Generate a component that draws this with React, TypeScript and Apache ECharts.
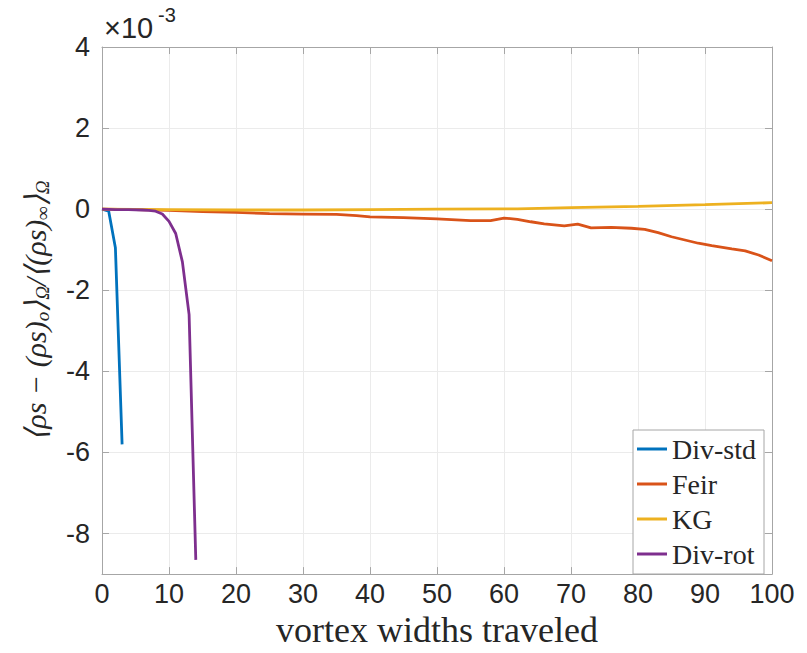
import React, { useEffect, useRef } from "react";
import * as echarts from "echarts";

// values in units of 1e-3
const divStdX = [0, 1, 2, 3];
const divStdY = [0, -0.05, -0.95, -5.8];

const feirX = [0, 5, 10, 15, 20, 25, 30, 35, 38, 40, 45, 50, 55, 58, 60, 62, 64, 66, 69, 71, 73, 76, 79, 81, 83, 85, 87, 89, 91, 94, 96, 98, 100];
const feirY = [0, -0.01, -0.03, -0.06, -0.08, -0.11, -0.12, -0.13, -0.16, -0.19, -0.21, -0.24, -0.28, -0.28, -0.22, -0.25, -0.31, -0.36, -0.41, -0.37, -0.46, -0.45, -0.47, -0.5, -0.58, -0.68, -0.76, -0.84, -0.9, -0.98, -1.03, -1.13, -1.27];

const kgX = [0, 10, 20, 30, 40, 50, 60, 62, 70, 80, 90, 100];
const kgY = [0, -0.01, -0.02, -0.02, -0.01, 0, 0.01, 0.01, 0.04, 0.07, 0.11, 0.16];

const divRotX = [0, 2, 4, 6, 7, 8, 9, 10, 11, 12, 13, 14];
const divRotY = [0, -0.01, -0.01, -0.02, -0.03, -0.05, -0.12, -0.3, -0.6, -1.3, -2.6, -8.65];

const seriesNames = ["Div-std", "Feir", "KG", "Div-rot"];
const seriesColors = ["#0072BD", "#D95319", "#EDB120", "#7E2F8E"];

const xMin = 0;
const xMax = 100;
const xInterval = 10;
const yMin = -9;
const yMax = 4;

const zip = (xs: number[], ys: number[]) => xs.map((x, i) => [x, ys[i]]);

export default function App() {
  const ref = useRef<HTMLDivElement>(null);
  useEffect(() => {
    if (!ref.current) return;
    const chart = echarts.init(ref.current, null, { renderer: "svg" });
    const axisColor = "#a6a6a6";
    const labelColor = "#262626";
    const sans = "Liberation Sans, Arial, Helvetica, sans-serif";
    const serif = "Liberation Serif";
    const datasets = [zip(divStdX, divStdY), zip(feirX, feirY), zip(kgX, kgY), zip(divRotX, divRotY)];
    chart.setOption({
      animation: false,
      backgroundColor: "#ffffff",
      grid: { left: 102, right: 35, top: 47, bottom: 78, containLabel: false },
      legend: {
        orient: "vertical",
        left: 633,
        top: 430,
        data: seriesNames,
        icon: "rect",
        itemWidth: 30,
        itemHeight: 3,
        itemGap: 7,
        padding: [5, 8, 6, 4],
        borderColor: "#a6a6a6",
        borderWidth: 1,
        backgroundColor: "#ffffff",
        textStyle: { fontFamily: serif, fontSize: 28, color: "#262626", lineHeight: 26 },
      },
      xAxis: [
        {
          type: "value",
          min: xMin,
          max: xMax,
          interval: xInterval,
          position: "bottom",
          name: "vortex widths traveled",
          nameLocation: "middle",
          nameGap: 31,
          nameTextStyle: { fontFamily: serif, fontSize: 36, color: labelColor },
          axisLine: { show: true, onZero: false, lineStyle: { color: axisColor, width: 1 } },
          axisTick: { show: true, inside: true, length: 7, lineStyle: { color: axisColor } },
          axisLabel: { fontFamily: sans, fontSize: 27, color: labelColor, margin: 6 },
          splitLine: { show: true, lineStyle: { color: "#ebebeb", width: 1 } },
        },
        {
          type: "value",
          min: xMin,
          max: xMax,
          interval: xInterval,
          position: "top",
          axisLine: { show: true, onZero: false, lineStyle: { color: axisColor, width: 1 } },
          axisTick: { show: true, inside: true, length: 7, lineStyle: { color: axisColor } },
          axisLabel: { show: false },
          splitLine: { show: false },
        },
      ],
      yAxis: [
        {
          type: "value",
          min: yMin,
          max: yMax,
          splitNumber: 7,
          position: "left",
          name:
            "{a|⟨ρs − (ρs)}{s|o}{a|⟩}{s|Ω}{a|/⟨(ρs)}{s|∞}{a|⟩}{s|Ω}",
          nameLocation: "middle",
          nameGap: 50,
          nameTextStyle: {
            color: labelColor,
            fontFamily: serif,
            fontStyle: "italic",
            rich: {
              a: { fontFamily: serif, fontSize: 30, fontStyle: "italic", color: labelColor, lineHeight: 34, verticalAlign: "middle" },
              s: { fontFamily: serif, fontSize: 19, fontStyle: "italic", color: labelColor, lineHeight: 12, verticalAlign: "bottom" },
            },
          },
          axisLine: { show: true, onZero: false, lineStyle: { color: axisColor, width: 1 } },
          axisTick: { show: true, inside: true, length: 7, lineStyle: { color: axisColor } },
          axisLabel: {
            fontFamily: sans,
            fontSize: 27,
            color: labelColor,
            margin: 12,
            formatter: (v: number) => (Math.abs(v % 2) > 1e-9 ? "" : String(v)),
          },
          splitLine: { show: true, lineStyle: { color: "#ebebeb", width: 1 } },
        },
        {
          type: "value",
          min: yMin,
          max: yMax,
          splitNumber: 7,
          position: "right",
          axisLine: { show: true, onZero: false, lineStyle: { color: axisColor, width: 1 } },
          axisTick: { show: true, inside: true, length: 7, lineStyle: { color: axisColor } },
          axisLabel: { show: false },
          splitLine: { show: false },
        },
      ],
      graphic: [
        {
          type: "text",
          left: 104,
          top: 13,
          style: { text: "×10", fontFamily: sans, fontSize: 29, fill: labelColor },
        },
        {
          type: "text",
          left: 158,
          top: 5,
          style: { text: "-3", fontFamily: sans, fontSize: 20, fill: labelColor },
        },
      ],
      series: seriesNames.map((name, i) => ({
        name,
        type: "line",
        xAxisIndex: 0,
        yAxisIndex: 0,
        data: datasets[i],
        showSymbol: false,
        symbol: "none",
        smooth: false,
        lineStyle: { color: seriesColors[i], width: 2.8 },
        itemStyle: { color: seriesColors[i] },
      })),
    });
    return () => chart.dispose();
  }, []);
  return (
    <div
      ref={ref}
      style={{ position: "fixed", left: 0, top: 0, width: 807, height: 653, background: "#fff" }}
    />
  );
}
